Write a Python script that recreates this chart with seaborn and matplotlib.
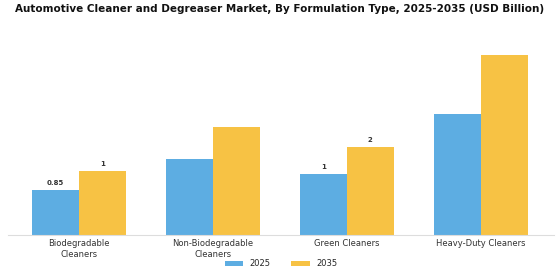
import pandas as pd
import matplotlib.pyplot as plt
import seaborn as sns

categories = ["Biodegradable\nCleaners", "Non-Biodegradable\nCleaners",
              "Green Cleaners", "Heavy-Duty Cleaners"]
values_2025 = [0.85, 1.43, 1.15, 2.28]
values_2035 = [1.21, 2.04, 1.66, 3.40]
labels_2025 = ["0.85", "", "1", ""]
labels_2035 = ["1", "", "2", ""]

df = pd.DataFrame({
    "Type": categories * 2,
    "Year": ["2025"] * 4 + ["2035"] * 4,
    "Value": values_2025 + values_2035,
})

sns.set_style("white")
fig, ax = plt.subplots(figsize=(5.6, 2.8), dpi=100)
fig.subplots_adjust(left=0.014, right=0.99, bottom=0.16, top=0.86)

sns.barplot(data=df, x="Type", y="Value", hue="Year",
            palette=["#5DADE2", "#F7C244"], width=0.7, saturation=1,
            linewidth=0, ax=ax)

for cont, labs in zip(ax.containers, [labels_2025, labels_2035]):
    ax.bar_label(cont, labels=labs, padding=3, fontsize=5,
                 fontweight="bold", color="#333333")

ax.set_xlim(-0.53, 3.55)
ax.set_ylim(0, 3.7)
ax.set_xlabel("")
ax.set_ylabel("")
ax.set_yticks([])
ax.tick_params(axis="x", labelsize=6, length=0, pad=3, colors="#333333")
for s in ["top", "right", "left"]:
    ax.spines[s].set_visible(False)
ax.spines["bottom"].set_color("#dddddd")
ax.spines["bottom"].set_linewidth(0.8)

fig.suptitle("Automotive Cleaner and Degreaser Market, By Formulation Type, 2025-2035 (USD Billion)",
             fontsize=7.5, fontweight="bold", y=0.985, color="#111111")

ax.legend(loc="upper center", bbox_to_anchor=(0.5, -0.085), ncol=2,
          frameon=False, fontsize=6, handlelength=2.2, handleheight=0.6,
          columnspacing=2.5)

fig.savefig("out.png", dpi=100)
